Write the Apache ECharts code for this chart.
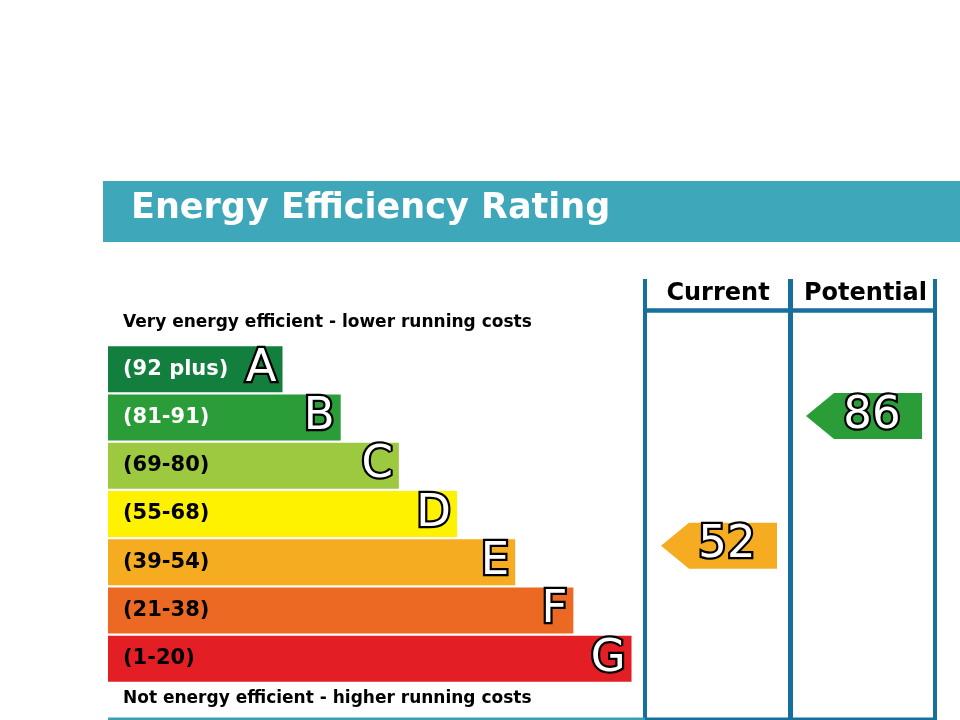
<!DOCTYPE html>
<html lang="en">
<head>
    <meta charset="UTF-8">
    <title>Energy Efficiency Rating</title>
    <script src="https://cdn.jsdelivr.net/npm/echarts@6/dist/echarts.min.js"></script>
    <style>
        html, body { margin: 0; padding: 0; background: #ffffff; }
        #chart { width: 960px; height: 720px; }
    </style>
</head>
<body>
<div id="chart"></div>
<script>
    // bands, top to bottom
    var bands = ['A', 'B', 'C', 'D', 'E', 'F', 'G'];
    var ranges = ['(92 plus)', '(81-91)', '(69-80)', '(55-68)', '(39-54)', '(21-38)', '(1-20)'];
    var bandMin = [92, 81, 69, 55, 39, 21, 1];
    var barLengths = [3, 4, 5, 6, 7, 8, 9];
    var bandColors = ['#127f3e', '#2a9c38', '#9cc93f', '#fff200', '#f6ac20', '#ec6924', '#e31e25'];
    var labelColors = ['#ffffff', '#ffffff', '#000000', '#000000', '#000000', '#000000', '#000000'];

    // ratings
    var columns = ['Current', 'Potential'];
    var ratings = [52, 86];

    var FONT = '"DejaVu Sans", "Liberation Sans", sans-serif';
    var frameBlue = '#17709c';

    function bandIndex(v) {
        for (var i = 0; i < bandMin.length; i++) {
            if (v >= bandMin[i]) return i;
        }
        return bandMin.length - 1;
    }

    var myChart = echarts.init(document.getElementById('chart'));

    myChart.setOption({
        backgroundColor: '#ffffff',
        animation: false,
        grid: [
            {left: 108, right: 270.3, top: 345, bottom: 37},
            {left: 645, right: 25, top: 362.6, bottom: 52.2}
        ],
        xAxis: [
            {type: 'value', gridIndex: 0, min: 0, max: 10, show: false},
            {type: 'category', gridIndex: 1, data: columns, show: false}
        ],
        yAxis: [
            {type: 'category', gridIndex: 0, data: bands, inverse: true, show: false},
            {type: 'value', gridIndex: 1, min: 20, max: 100, show: false}
        ],
        graphic: [
            // header band
            {type: 'rect', shape: {x: 103, y: 181, width: 857, height: 61}, style: {fill: '#3ea7b9'}, z: 1},
            {
                type: 'text', x: 131, y: 209, z: 2,
                style: {
                    text: 'Energy Efficiency Rating', fill: '#ffffff',
                    font: 'bold 35px ' + FONT, verticalAlign: 'middle'
                }
            },
            // frame
            {type: 'line', shape: {x1: 645, y1: 279, x2: 645, y2: 720}, style: {stroke: frameBlue, lineWidth: 4}},
            {type: 'line', shape: {x1: 790.5, y1: 279, x2: 790.5, y2: 720}, style: {stroke: frameBlue, lineWidth: 5}},
            {type: 'line', shape: {x1: 935, y1: 279, x2: 935, y2: 720}, style: {stroke: frameBlue, lineWidth: 4}},
            {type: 'line', shape: {x1: 643, y1: 310.5, x2: 937, y2: 310.5}, style: {stroke: frameBlue, lineWidth: 4.5}},
            {type: 'line', shape: {x1: 108, y1: 719, x2: 645, y2: 719}, style: {stroke: '#3a9fb3', lineWidth: 3}},
            {type: 'line', shape: {x1: 645, y1: 719, x2: 937, y2: 719}, style: {stroke: frameBlue, lineWidth: 3}},
            // column headers
            {
                type: 'text', x: 718, y: 294,
                style: {text: 'Current', fill: '#000', font: 'bold 24px ' + FONT, align: 'center', verticalAlign: 'middle'}
            },
            {
                type: 'text', x: 865.5, y: 294,
                style: {text: 'Potential', fill: '#000', font: 'bold 24px ' + FONT, align: 'center', verticalAlign: 'middle'}
            },
            // scale captions
            {
                type: 'text', x: 123, y: 323,
                style: {text: 'Very energy efficient - lower running costs', fill: '#000', font: 'bold 17px ' + FONT, verticalAlign: 'middle'}
            },
            {
                type: 'text', x: 123, y: 699,
                style: {text: 'Not energy efficient - higher running costs', fill: '#000', font: 'bold 17px ' + FONT, verticalAlign: 'middle'}
            }
        ],
        series: [
            {
                name: 'bands',
                type: 'bar',
                xAxisIndex: 0,
                yAxisIndex: 0,
                barCategoryGap: '4.8%',
                data: barLengths.map(function (v, i) {
                    return {
                        value: v,
                        itemStyle: {color: bandColors[i]},
                        label: {color: labelColors[i]}
                    };
                }),
                label: {
                    show: true,
                    position: 'insideLeft',
                    distance: 15,
                    fontFamily: FONT,
                    fontWeight: 'bold',
                    fontSize: 21,
                    formatter: function (p) { return ranges[p.dataIndex]; }
                }
            },
            {
                name: 'letters',
                type: 'bar',
                xAxisIndex: 0,
                yAxisIndex: 0,
                barGap: '-100%',
                barCategoryGap: '4.8%',
                itemStyle: {color: 'rgba(0,0,0,0)'},
                data: barLengths,
                label: {
                    show: true,
                    position: 'insideRight',
                    distance: 6,
                    fontFamily: FONT,
                    fontSize: 45,
                    color: '#ffffff',
                    textBorderColor: '#000000',
                    textBorderWidth: 4.5,
                    formatter: function (p) { return bands[p.dataIndex]; }
                },
                z: 3
            },
            {
                name: 'ratings',
                type: 'custom',
                xAxisIndex: 1,
                yAxisIndex: 1,
                data: ratings.map(function (v, i) { return [i, v]; }),
                renderItem: function (params, api) {
                    var v = api.value(1);
                    var p = api.coord([api.value(0), v]);
                    var cx = p[0] + 1.5, cy = p[1];
                    var half = 58, h = 23, tip = 28;
                    var color = bandColors[bandIndex(v)];
                    return {
                        type: 'group',
                        children: [
                            {
                                type: 'polygon',
                                shape: {
                                    points: [
                                        [cx - half, cy],
                                        [cx - half + tip, cy - h],
                                        [cx + half, cy - h],
                                        [cx + half, cy + h],
                                        [cx - half + tip, cy + h]
                                    ]
                                },
                                style: {fill: color}
                            },
                            {
                                type: 'text',
                                x: cx + 8,
                                y: cy,
                                style: {
                                    text: String(v),
                                    font: '45px ' + FONT,
                                    fill: '#ffffff',
                                    stroke: '#000000',
                                    lineWidth: 4.5,
                                    strokeFirst: true,
                                    align: 'center',
                                    verticalAlign: 'middle'
                                }
                            }
                        ]
                    };
                }
            }
        ]
    });
</script>
</body>
</html>
